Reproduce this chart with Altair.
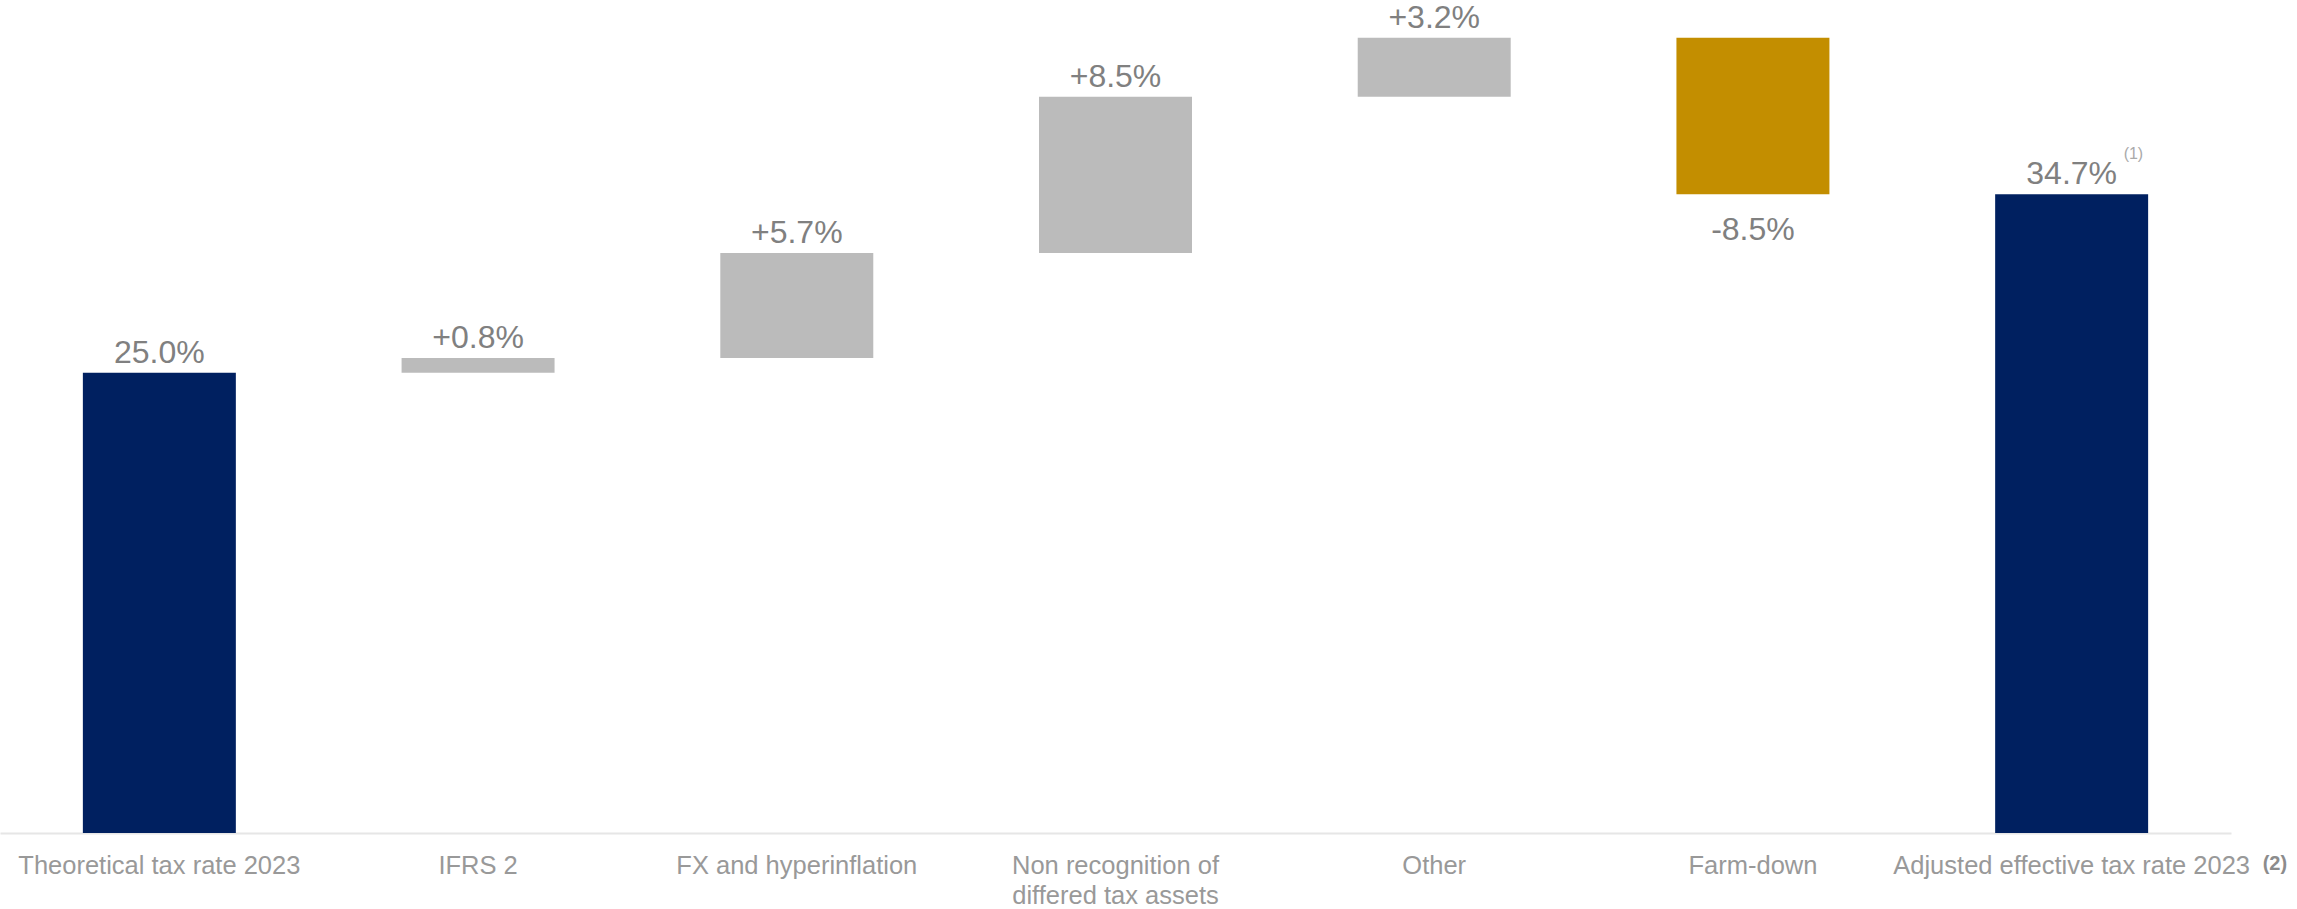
import altair as alt
import pandas as pd

# ---- data ----
categories = [
    "Theoretical tax rate 2023",
    "IFRS 2",
    "FX and hyperinflation",
    "Non recognition of\ndiffered tax assets",
    "Other",
    "Farm-down",
    "Adjusted effective tax rate 2023",
]
values = [25.0, 0.8, 5.7, 8.5, 3.2, -8.5, 34.7]
kinds = ["total", "increase", "increase", "increase", "increase", "decrease", "total"]
value_labels = ["25.0%", "+0.8%", "+5.7%", "+8.5%", "+3.2%", "-8.5%", "34.7%"]
value_note = "(1)"
axis_note = "(2)"

# ---- waterfall table ----
rows = []
running = 0.0
for i, (c, v, k, t) in enumerate(zip(categories, values, kinds, value_labels)):
    if k == "total":
        start, end = 0.0, v
    else:
        start, end = running, running + v
    running = end
    rows.append({"cat": c, "start": start, "end": end, "kind": k, "label": t, "order": i})
df = pd.DataFrame(rows)

FONT = "Liberation Sans"
x_enc = alt.X(
    "cat:N",
    sort=categories,
    scale=alt.Scale(paddingInner=0.52, paddingOuter=0.26),
    axis=alt.Axis(
        title=None,
        labelAngle=0,
        ticks=False,
        tickSize=0,
        domainColor="#e6e6e6",
        domainWidth=2,
        labelFont=FONT,
        labelFontSize=25.5,
        labelColor="#999999",
        labelPadding=20,
        labelLineHeight=30,
        labelLimit=0,
        labelOverlap=False,
        labelBound=False,
        labelExpr="split(datum.label, '\\n')",
    ),
)
y_scale = alt.Scale(domain=[0, 45.25], nice=False, zero=True)

base = alt.Chart(df)

bars = base.mark_bar().encode(
    x=x_enc,
    y=alt.Y("start:Q", scale=y_scale, axis=None),
    y2="end:Q",
    color=alt.Color(
        "kind:N",
        scale=alt.Scale(domain=["total", "increase", "decrease"],
                        range=["#002060", "#BBBBBB", "#C38E00"]),
        legend=None,
    ),
)

labels_up = base.transform_filter("datum.kind != 'decrease'").mark_text(
    font=FONT, fontSize=32, color="#808080", baseline="alphabetic", dy=-10
).encode(x=alt.X("cat:N", sort=categories), y=alt.Y("end:Q", scale=y_scale), text="label:N")

labels_down = base.transform_filter("datum.kind == 'decrease'").mark_text(
    font=FONT, fontSize=32, color="#808080", baseline="alphabetic", dy=46
).encode(x=alt.X("cat:N", sort=categories), y=alt.Y("end:Q", scale=y_scale), text="label:N")

last = df.iloc[[-1]].copy()
last["note1"] = value_note
last["note2"] = axis_note
last["zero"] = 0.0

note1 = alt.Chart(last).mark_text(
    font=FONT, fontSize=16, color="#aaaaaa", baseline="alphabetic", align="left", dx=52, dy=-35
).encode(x=alt.X("cat:N", sort=categories), y=alt.Y("end:Q", scale=y_scale), text="note1:N")

note2 = alt.Chart(last).mark_text(
    font=FONT, fontSize=20, fontWeight="bold", color="#8c8c8c", baseline="alphabetic",
    align="left", dx=191, dy=37
).encode(x=alt.X("cat:N", sort=categories), y=alt.Y("zero:Q", scale=y_scale), text="note2:N")

chart = (
    alt.layer(bars, labels_up, labels_down, note1, note2)
    .properties(width=2231, height=833, padding={"left": 0, "top": 0, "right": 0, "bottom": 0},
                background="white")
    .configure_view(strokeWidth=0)
)

chart.save("out.html", embed_options={"renderer": "svg", "actions": False})
